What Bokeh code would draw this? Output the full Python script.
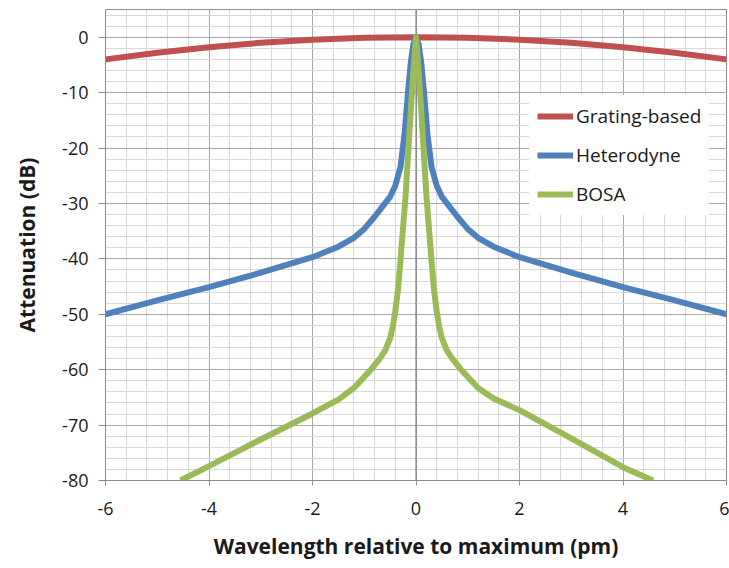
from bokeh.plotting import figure
from bokeh.models import FixedTicker, Span, Legend, LegendItem, Range1d, CustomJSTickFormatter
from bokeh.embed import file_html
from bokeh.resources import INLINE

# ---- data ----
grating_x = [-6, -5, -4, -3, -2, -1, 0, 1, 2, 3, 4, 5, 6]
grating_y = [-4.0, -2.8, -1.8, -1.0, -0.45, -0.12, 0, -0.12, -0.45, -1.0, -1.8, -2.8, -4.0]

hetero_x = [-6, -5, -4, -3, -2, -1.5, -1.2, -1, -0.8, -0.6, -0.5, -0.4, -0.3, -0.22, -0.16,
            -0.1, -0.05, 0, 0.05, 0.1, 0.16, 0.22, 0.3, 0.4, 0.5, 0.6, 0.8, 1, 1.2, 1.5, 2, 3, 4, 5, 6]
hetero_y = [-50, -47.5, -45.1, -42.5, -39.7, -37.8, -36.2, -34.6, -32.4, -30.0, -28.8, -26.8, -23.4, -17.4, -10.5,
            -4.5, -1.2, 0, -1.2, -4.5, -10.5, -17.4, -23.4, -26.8, -28.8, -30.0, -32.4, -34.6, -36.2, -37.8, -39.7, -42.5, -45.1, -47.5, -50]

bosa_x = [-4.55, -4, -3, -2, -1.5, -1.2, -0.9, -0.7, -0.6, -0.5, -0.45, -0.4, -0.35, -0.3, -0.2, -0.1, -0.05, 0,
          0.05, 0.1, 0.2, 0.3, 0.35, 0.4, 0.45, 0.5, 0.6, 0.7, 0.9, 1.2, 1.5, 2, 3, 4, 4.58]
bosa_y = [-80, -77.4, -72.6, -67.9, -65.4, -63.3, -60.3, -58.0, -56.6, -54.3, -52.3, -49.5, -45.8, -40.3, -28.5, -13.0, -6.0, 0,
          -6.0, -13.0, -28.5, -40.3, -45.8, -49.5, -52.3, -54.3, -56.6, -58.0, -60.3, -63.3, -65.2, -67.3, -72.4, -77.6, -80]

series_names = ["Grating-based", "Heterodyne", "BOSA"]
series_colors = ["#C0504D", "#4F81BD", "#9BBB59"]

x_major = [-6, -4, -2, 0, 2, 4, 6]
x_minor = [round(-6 + 0.4 * i, 2) for i in range(31)]
y_major = [-80, -70, -60, -50, -40, -30, -20, -10, 0]
y_minor = list(range(-80, 6, 2))

FONT = "Open Sans"

p = figure(width=729, height=568, output_backend="svg", toolbar_location=None,
           x_range=Range1d(-6, 6), y_range=Range1d(-80, 5),
           min_border_left=105, min_border_right=3, min_border_top=9, min_border_bottom=88)
p.background_fill_color = "white"
p.border_fill_color = "white"
p.outline_line_color = "#8c8c8c"
p.outline_line_width = 1

p.xaxis.ticker = FixedTicker(ticks=x_major, minor_ticks=x_minor)
p.yaxis.ticker = FixedTicker(ticks=y_major, minor_ticks=y_minor)
fmt = CustomJSTickFormatter(code="return String(tick);")
p.xaxis.formatter = fmt
p.yaxis.formatter = fmt

for g in p.grid:
    g.grid_line_color = "#a8a8a8"
    g.grid_line_width = 1
    g.minor_grid_line_color = "#d9d9d9"
    g.minor_grid_line_width = 1

for ax in (p.xaxis[0], p.yaxis[0]):
    ax.axis_line_color = "#8c8c8c"
    ax.major_tick_line_color = "#8c8c8c"
    ax.minor_tick_line_color = None
    ax.major_tick_in = 0
    ax.major_label_text_font = FONT
    ax.major_label_text_font_size = "18px"
    ax.major_label_text_color = "#1a1a1a"
    ax.axis_label_text_font = FONT
    ax.axis_label_text_font_size = "21px"
    ax.axis_label_text_font_style = "bold"
    ax.axis_label_text_color = "#1a1a1a"

p.yaxis.major_tick_out = 7
p.yaxis.major_label_standoff = 10
p.yaxis.axis_label = "Attenuation (dB)"
p.yaxis.axis_label_standoff = 18

p.xaxis.major_tick_out = 5
p.xaxis.major_label_standoff = 16
p.xaxis.axis_label = "Wavelength relative to maximum (pm)"
p.xaxis.axis_label_standoff = 14

p.add_layout(Span(location=0, dimension="height", line_color="#6e6e6e", line_width=1, level="underlay"))

r_g = p.line(grating_x, grating_y, line_color=series_colors[0], line_width=6, line_join="round")
r_h = p.line(hetero_x, hetero_y, line_color=series_colors[1], line_width=6, line_join="round")
r_b = p.line(bosa_x, bosa_y, line_color=series_colors[2], line_width=6, line_join="round")

legend = Legend(items=[LegendItem(label=series_names[0], renderers=[r_g]),
                       LegendItem(label=series_names[1], renderers=[r_h]),
                       LegendItem(label=series_names[2], renderers=[r_b])],
                location=(424, 265))
legend.background_fill_color = "white"
legend.background_fill_alpha = 1
legend.border_line_alpha = 0
legend.padding = 8
legend.margin = 0
legend.spacing = 13
legend.glyph_width = 36
legend.glyph_height = 20
legend.label_height = 20
legend.label_standoff = 3
legend.label_text_font = FONT
legend.label_text_font_size = "19px"
legend.label_text_color = "#1a1a1a"
p.add_layout(legend)

open("out.html", "w").write(file_html(p, INLINE))
